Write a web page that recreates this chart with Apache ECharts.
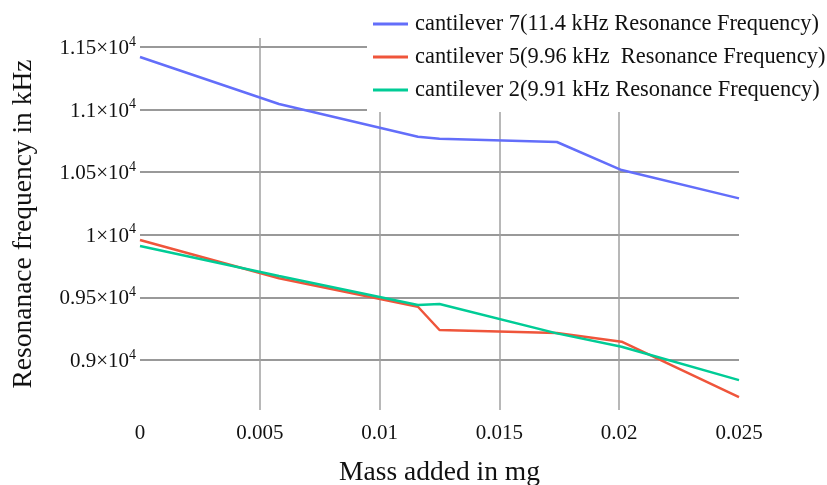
<!DOCTYPE html>
<html>
<head>
<meta charset="utf-8" />
<script src="https://cdn.jsdelivr.net/npm/echarts@6/dist/echarts.min.js"></script>
<style>
  html, body { margin: 0; padding: 0; background: #fff; }
  #main { width: 827px; height: 485px; }
</style>
</head>
<body>
<div id="main"></div>
<script>
// mass added (mg)
var massAdded = [0, 0.0058, 0.0116, 0.0125, 0.0174, 0.0201, 0.025];
// resonance frequency readings
var cantilever7 = [11420, 11045, 10783, 10767, 10741, 10517, 10291];
var cantilever5 = [9958, 9652, 9425, 9239, 9215, 9146, 8703];
var cantilever2 = [9910, 9670, 9439, 9447, 9212, 9105, 8839];
var seriesNames = [
  'cantilever 7(11.4 kHz Resonance Frequency)',
  'cantilever 5(9.96 kHz  Resonance Frequency)',
  'cantilever 2(9.91 kHz Resonance Frequency)'
];
var colors = ['#636EFA', '#EF553B', '#00CC96'];

function pairs(ys) {
  var out = [];
  for (var i = 0; i < massAdded.length; i++) out.push([massAdded[i], ys[i]]);
  return out;
}

var font = '"Liberation Serif", "Times New Roman", serif';
var chart = echarts.init(document.getElementById('main'));

chart.setOption({
  animation: false,
  color: colors,
  grid: { left: 140, right: 88, top: 38, bottom: 75, containLabel: false, outerBoundsMode: 'none' },
  legend: {
    orient: 'vertical',
    left: 367,
    top: 0,
    padding: [13, 20, 11, 6],
    backgroundColor: '#fff',
    icon: 'rect',
    itemWidth: 35,
    itemHeight: 3,
    itemGap: 11,
    textStyle: { fontFamily: font, fontSize: 22.4, lineHeight: 22, color: '#111', padding: [0, 0, 0, 2] },
    data: seriesNames
  },
  xAxis: {
    type: 'value',
    min: 0,
    max: 0.025,
    interval: 0.005,
    axisLine: { show: false },
    axisTick: { show: false },
    axisLabel: { fontFamily: font, fontSize: 21, color: '#111', margin: 13 },
    splitLine: { show: true, showMinLine: false, showMaxLine: false, lineStyle: { color: '#a0a0a0', width: 1.5 } },
    name: 'Mass added in mg',
    nameLocation: 'middle',
    nameGap: 49,
    nameTextStyle: { fontFamily: font, fontSize: 27.5, color: '#111' }
  },
  yAxis: {
    type: 'value',
    min: 8600,
    max: 11572,
    splitNumber: 6,
    axisLine: { show: false },
    axisTick: { show: false },
    axisLabel: {
      margin: 4,
      showMinLabel: false,
      showMaxLabel: false,
      formatter: function (v) {
        var m = +(v / 10000).toFixed(3);
        return '{b|' + m + '×10}{s|4}';
      },
      rich: {
        b: { fontFamily: font, fontSize: 21, color: '#111', lineHeight: 24, verticalAlign: 'bottom', padding: [10, 0, 0, 0] },
        s: { fontFamily: font, fontSize: 14, color: '#111', lineHeight: 14, verticalAlign: 'top' }
      }
    },
    splitLine: { show: true, showMinLine: false, showMaxLine: false, lineStyle: { color: '#999', width: 1.8 } },
    name: 'Resonanace frequency in kHz',
    nameLocation: 'middle',
    nameGap: 102,
    nameTextStyle: { fontFamily: font, fontSize: 27.5, color: '#111' }
  },
  series: [
    { name: seriesNames[0], type: 'line', symbol: 'none', data: pairs(cantilever7), lineStyle: { width: 2.5 } },
    { name: seriesNames[1], type: 'line', symbol: 'none', data: pairs(cantilever5), lineStyle: { width: 2.5 } },
    { name: seriesNames[2], type: 'line', symbol: 'none', data: pairs(cantilever2), lineStyle: { width: 2.5 } }
  ]
});
</script>
</body>
</html>
